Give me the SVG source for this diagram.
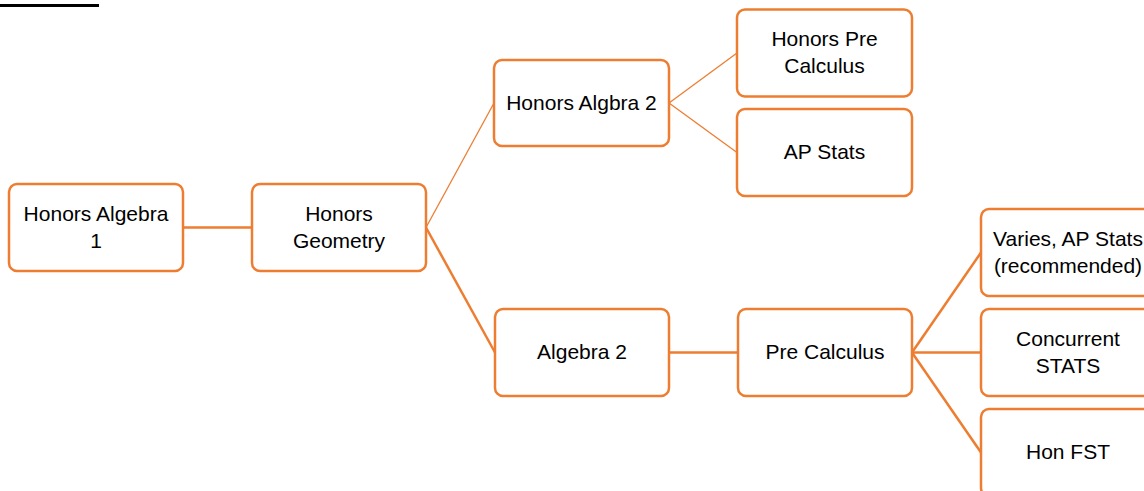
<svg xmlns="http://www.w3.org/2000/svg" width="1144" height="491" viewBox="0 0 1144 491">
<style>
.box{fill:#fff;stroke:#ED7D31;stroke-width:2.5}
.t{font-family:"Liberation Sans",Arial,sans-serif;font-size:21px;fill:#000;text-anchor:middle}
.c{stroke:#ED7D31;fill:none;stroke-width:2.5}
.c1{stroke:#ED7D31;fill:none;stroke-width:1.3}
</style>
<rect width="1144" height="491" fill="#fff"/>
<rect x="0" y="4" width="99" height="3" fill="#000"/>
<g id="connectors">
<line class="c" x1="183" y1="227.5" x2="252" y2="227.5"/>
<line class="c1" x1="426" y1="227.5" x2="494" y2="103"/>
<line class="c" x1="426" y1="227.5" x2="495" y2="352.5"/>
<line class="c1" x1="669" y1="103" x2="737" y2="53"/>
<line class="c1" x1="669" y1="103" x2="737" y2="152.5"/>
<line class="c" x1="669" y1="352.5" x2="738" y2="352.5"/>
<line class="c" x1="912" y1="352.5" x2="981" y2="252.5"/>
<line class="c" x1="912" y1="352.5" x2="981" y2="352.5"/>
<line class="c" x1="912" y1="352.5" x2="981" y2="452.5"/>
</g>
<g id="n1"><rect class="box" x="9" y="184" width="174" height="87" rx="8"/><text class="t" x="96" y="221">Honors Algebra</text><text class="t" x="96" y="247.5">1</text></g>
<g id="n2"><rect class="box" x="252" y="184" width="174" height="87" rx="8"/><text class="t" x="339" y="221">Honors</text><text class="t" x="339" y="247.5">Geometry</text></g>
<g id="n3"><rect class="box" x="494" y="60" width="175" height="86" rx="8"/><text class="t" x="581.5" y="110">Honors Algbra 2</text></g>
<g id="n4"><rect class="box" x="737" y="9.5" width="175" height="87" rx="8"/><text class="t" x="824.5" y="46">Honors Pre</text><text class="t" x="824.5" y="72.5">Calculus</text></g>
<g id="n5"><rect class="box" x="737" y="109" width="175" height="87" rx="8"/><text class="t" x="824.5" y="159">AP Stats</text></g>
<g id="n6"><rect class="box" x="495" y="309" width="174" height="87" rx="8"/><text class="t" x="582" y="359">Algebra 2</text></g>
<g id="n7"><rect class="box" x="738" y="309" width="174" height="87" rx="8"/><text class="t" x="825" y="359">Pre Calculus</text></g>
<g id="n8"><rect class="box" x="981" y="209" width="174" height="87" rx="8"/><text class="t" x="1068" y="245.5">Varies, AP Stats</text><text class="t" x="1068" y="272.5">(recommended)</text></g>
<g id="n9"><rect class="box" x="981" y="309" width="174" height="87" rx="8"/><text class="t" x="1068" y="345.5">Concurrent</text><text class="t" x="1068" y="372.5">STATS</text></g>
<g id="n10"><rect class="box" x="981" y="409" width="174" height="87" rx="8"/><text class="t" x="1068" y="458.5">Hon FST</text></g>
</svg>
